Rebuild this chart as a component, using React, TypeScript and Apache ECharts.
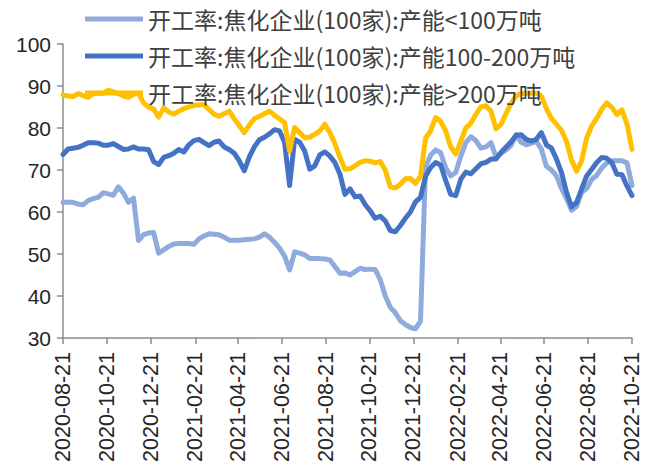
import React, { useEffect, useRef } from "react";
import * as echarts from "echarts";

const START_DATE = "2020-08-21";
const WEEK_DAYS = 7;

const tickDates = [
  "2020-08-21", "2020-10-21", "2020-12-21", "2021-02-21", "2021-04-21",
  "2021-06-21", "2021-08-21", "2021-10-21", "2021-12-21", "2022-02-21",
  "2022-04-21", "2022-06-21", "2022-08-21", "2022-10-21",
];

const seriesNames = [
  "开工率:焦化企业(100家):产能<100万吨",
  "开工率:焦化企业(100家):产能100-200万吨",
  "开工率:焦化企业(100家):产能>200万吨",
];

// weekly values from 2020-08-21
const smallPlants = [
  62.3, 62.3, 62.3, 61.9, 61.7, 62.7, 63.2, 63.5, 64.6, 64.3,
  64.0, 66.0, 64.5, 62.3, 63.3, 53.2, 54.6, 55.0, 55.1, 50.2,
  51.0, 51.8, 52.4, 52.5, 52.5, 52.5, 52.3, 53.6, 54.3, 54.8,
  54.7, 54.6, 54.0, 53.3, 53.3, 53.3, 53.4, 53.5, 53.6, 54.0,
  54.8, 54.0, 52.8, 51.4, 49.5, 46.2, 50.5, 50.2, 49.8, 48.9,
  48.9, 48.9, 48.8, 48.6, 47.0, 45.4, 45.5, 45.0, 45.8, 46.6,
  46.3, 46.4, 46.3, 43.9, 40.0, 37.3, 36.0, 34.1, 33.2, 32.5,
  32.2, 34.0, 70.8, 73.5, 74.8, 74.1, 70.5, 68.6, 69.4, 73.3,
  76.5, 77.9, 77.0, 75.2, 75.5, 76.5, 73.1, 73.9, 74.8, 75.9,
  78.4, 76.6, 76.0, 76.4, 76.8, 75.0, 70.9, 70.0, 68.6, 65.6,
  63.2, 60.4, 61.3, 64.7, 65.6, 67.8, 68.7, 70.5, 71.7, 72.2,
  72.2, 72.2, 71.7, 66.3,
];

const midPlants = [
  73.7, 75.0, 75.2, 75.4, 75.9, 76.5, 76.5, 76.4, 75.9, 75.9,
  76.3, 75.6, 74.9, 75.0, 75.5, 75.0, 75.0, 74.8, 72.0, 71.3,
  73.0, 73.4, 74.0, 74.9, 74.3, 76.0, 77.0, 77.3, 76.5, 75.8,
  76.6, 76.9, 75.5, 74.9, 74.0, 72.2, 69.8, 73.1, 75.5, 77.2,
  77.8, 78.6, 79.6, 79.3, 76.6, 66.3, 77.3, 76.6, 74.5, 70.2,
  71.0, 73.6, 74.3, 73.3, 71.8, 69.0, 64.2, 65.5, 63.6, 63.8,
  61.8, 60.3, 58.5, 59.0, 57.9, 55.6, 55.3, 56.8, 58.5, 60.0,
  62.4, 63.5, 68.5, 70.6, 71.8, 71.2, 67.5, 64.2, 63.9, 67.8,
  69.5, 69.1, 70.3, 71.5, 71.8, 72.6, 72.6, 74.2, 75.5, 76.7,
  78.3, 78.4, 77.3, 76.9, 77.3, 78.9, 76.0, 75.2, 72.6, 69.4,
  64.7, 61.2, 62.3, 65.5, 68.6, 70.2, 71.8, 73.0, 72.8, 71.7,
  69.0, 68.9, 66.2, 63.9,
];

const largePlants = [
  87.9, 87.6, 87.5, 88.2, 87.7, 87.3, 88.2, 88.3, 88.3, 89.0,
  88.6, 88.2, 87.6, 87.3, 88.0, 88.3, 86.0, 85.0, 84.5, 82.6,
  84.8, 83.8, 83.3, 84.0, 84.6, 85.0, 85.4, 85.5, 85.6, 84.4,
  83.3, 82.8, 83.4, 84.0, 82.2, 80.6, 78.9, 80.7, 82.2, 82.8,
  83.4, 84.0, 83.0, 82.2, 81.3, 74.5, 80.1, 78.9, 77.7, 77.8,
  78.5, 79.3, 80.9, 78.9, 76.3, 73.0, 70.2, 70.3, 71.0, 71.8,
  72.2, 72.1, 71.7, 72.0, 70.0, 66.0, 65.7, 66.6, 67.9, 68.0,
  66.8, 68.5, 77.6, 79.3, 82.5, 81.6, 79.3, 75.5, 73.8, 76.8,
  80.0, 81.2, 83.3, 85.0, 85.3, 84.0, 79.8, 80.9, 83.5, 85.9,
  87.7, 88.2, 88.3, 88.3, 88.3, 87.6, 84.6, 82.3, 80.9, 79.4,
  76.8, 72.3, 69.7, 72.2, 77.6, 80.5, 82.3, 84.5, 86.0, 84.9,
  83.2, 84.3, 81.0, 74.9,
];

const colors = ["#8FAADC", "#4472C4", "#FFC000"];

const dayOffset = (d: string) => {
  const [y, m, dd] = d.split("-").map(Number);
  const [y0, m0, d0] = START_DATE.split("-").map(Number);
  return Math.round((Date.UTC(y, m - 1, dd) - Date.UTC(y0, m0 - 1, d0)) / 86400000);
};

const tickOffsets = tickDates.map(dayOffset);

const toPoints = (vals: number[]) => vals.map((v, i) => [i * WEEK_DAYS, v]);

export default function App() {
  const ref = useRef<HTMLDivElement>(null);
  useEffect(() => {
    if (!ref.current) return;
    const chart = echarts.init(ref.current, null, { renderer: "svg" });
    const labelFont = "'Liberation Sans', Arial, sans-serif";
    chart.setOption({
      animation: false,
      backgroundColor: "#ffffff",
      grid: { left: 63, right: 21, top: 44, bottom: 131, containLabel: false },
      legend: {
        orient: "vertical",
        left: 85,
        top: 6,
        padding: 0,
        itemWidth: 58,
        itemHeight: 5,
        itemGap: 11,
        icon: "rect",
        textStyle: {
          fontSize: 23,
          color: "#404040",
          fontFamily: "'Noto Sans CJK SC', sans-serif",
          lineHeight: 26,
        },
        data: seriesNames,
      },
      xAxis: {
        type: "value",
        min: 0,
        max: tickOffsets[tickOffsets.length - 1],
        axisLine: { lineStyle: { color: "#8C8C8C", width: 1.5 } },
        axisTick: {
          show: true,
          length: 6,
          customValues: tickOffsets,
          lineStyle: { color: "#8C8C8C", width: 1.5 },
        },
        splitLine: { show: false },
        axisLabel: {
          customValues: tickOffsets,
          rotate: 90,
          margin: 14,
          fontSize: 21.5,
          color: "#262626",
          fontFamily: labelFont,
          formatter: (v: number) => {
            const idx = tickOffsets.indexOf(Math.round(v));
            return idx >= 0 ? tickDates[idx] : "";
          },
        },
      },
      yAxis: {
        type: "value",
        min: 30,
        max: 100,
        interval: 10,
        axisLine: { show: true, lineStyle: { color: "#8C8C8C", width: 1.5 } },
        axisTick: { show: true, length: 6, lineStyle: { color: "#8C8C8C", width: 1.5 } },
        splitLine: { show: false },
        axisLabel: {
          fontSize: 21,
          margin: 12,
          color: "#262626",
          fontFamily: labelFont,
        },
      },
      series: [smallPlants, midPlants, largePlants].map((vals, i) => ({
        name: seriesNames[i],
        type: "line",
        data: toPoints(vals),
        showSymbol: false,
        symbol: "none",
        lineStyle: { width: 5, color: colors[i], cap: "round", join: "round" },
        itemStyle: { color: colors[i] },
      })),
    });
    return () => chart.dispose();
  }, []);
  return (
    <div
      ref={ref}
      style={{ position: "absolute", left: 0, top: 0, width: 653, height: 469 }}
    />
  );
}
